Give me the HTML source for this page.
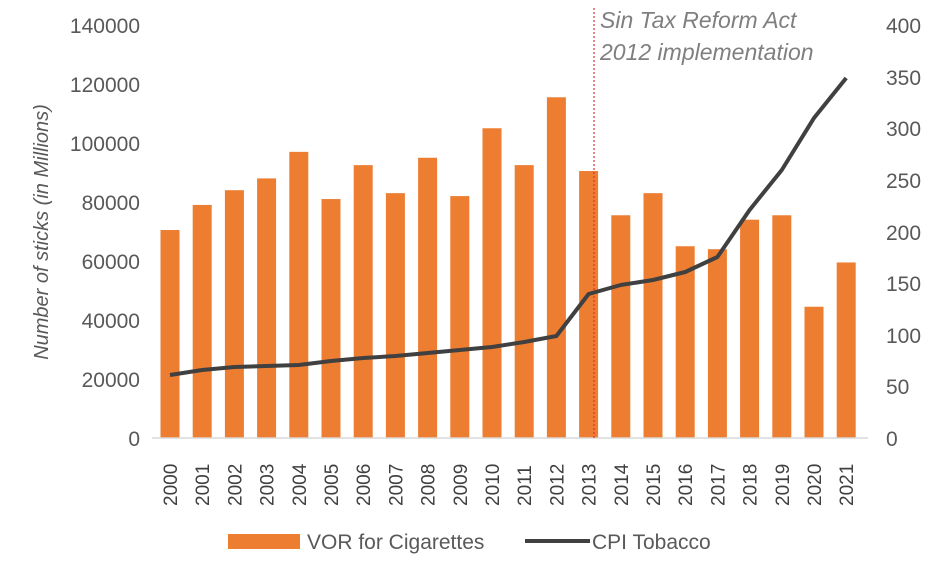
<!DOCTYPE html>
<html><head><meta charset="utf-8"><style>
html,body{margin:0;padding:0;background:#fff;}
svg{display:block;font-family:"Liberation Sans",sans-serif;}
</style></head><body>
<svg id="s" width="945" height="570" viewBox="0 0 945 570" xmlns="http://www.w3.org/2000/svg">
<g font-size="21" fill="#595959" text-anchor="end">
<text x="140" y="33">140000</text>
<text x="140" y="92">120000</text>
<text x="140" y="151">100000</text>
<text x="140" y="210">80000</text>
<text x="140" y="269">60000</text>
<text x="140" y="328">40000</text>
<text x="140" y="387">20000</text>
<text x="140" y="446">0</text>
</g>
<g font-size="21" fill="#595959" text-anchor="start">
<text x="886" y="33">400</text>
<text x="886" y="85">350</text>
<text x="886" y="136">300</text>
<text x="886" y="188">250</text>
<text x="886" y="240">200</text>
<text x="886" y="291">150</text>
<text x="886" y="343">100</text>
<text x="886" y="394">50</text>
<text x="886" y="446">0</text>
</g>
<text transform="translate(48,232) rotate(-90)" font-size="20" font-style="italic" fill="#595959" text-anchor="middle">Number of sticks (in Millions)</text>
<g fill="#ED7D31" id="bars"></g>
<line x1="152" y1="438" x2="868" y2="438" stroke="#d9d9d9" stroke-width="1.5"/>
<line x1="594" y1="8" x2="594" y2="438" stroke="#e03030" stroke-width="1.2" stroke-dasharray="2,2"/>
<text x="600" y="28" font-size="23" font-style="italic" fill="#7f7f7f">Sin Tax Reform Act</text>
<text x="600" y="60" font-size="23" font-style="italic" fill="#7f7f7f">2012 implementation</text>
<polyline fill="none" stroke="#404040" stroke-width="4" stroke-linejoin="round" id="ln" points="0,0"/>
<g id="yrs" font-size="19" fill="#404040"></g>
<rect x="228" y="534" width="72" height="15" fill="#ED7D31"/>
<text x="307" y="549" font-size="21" fill="#595959">VOR for Cigarettes</text>
<line x1="525" y1="541" x2="590" y2="541" stroke="#404040" stroke-width="4"/>
<text x="592" y="549" font-size="21" fill="#595959">CPI Tobacco</text>
</svg>
<script>
var NS="http://www.w3.org/2000/svg";
var v=[70500,79000,84000,88000,97000,81000,92500,83000,95000,82000,105000,92500,115500,90500,75500,83000,65000,64000,74000,75500,44500,59500];
var ly=[375,370,367,366,365,361,358,356,353,350,347,342,336,294,285,280,272,257,210,170,118,78];
var bars=document.getElementById('bars'),yrs=document.getElementById('yrs'),p=[];
for(var i=0;i<22;i++){var cx=170+i*32.2;var y=438-v[i]/140000*413;
var r=document.createElementNS(NS,'rect');r.setAttribute('x',cx-9.5);r.setAttribute('y',y);r.setAttribute('width',19);r.setAttribute('height',438-y);bars.appendChild(r);
p.push(cx+','+ly[i]);
var t=document.createElementNS(NS,'text');t.setAttribute('transform','translate('+(cx+7)+',506) rotate(-90)');t.textContent=String(2000+i);yrs.appendChild(t);}
document.getElementById('ln').setAttribute('points',p.join(' '));
</script>
</body></html>
